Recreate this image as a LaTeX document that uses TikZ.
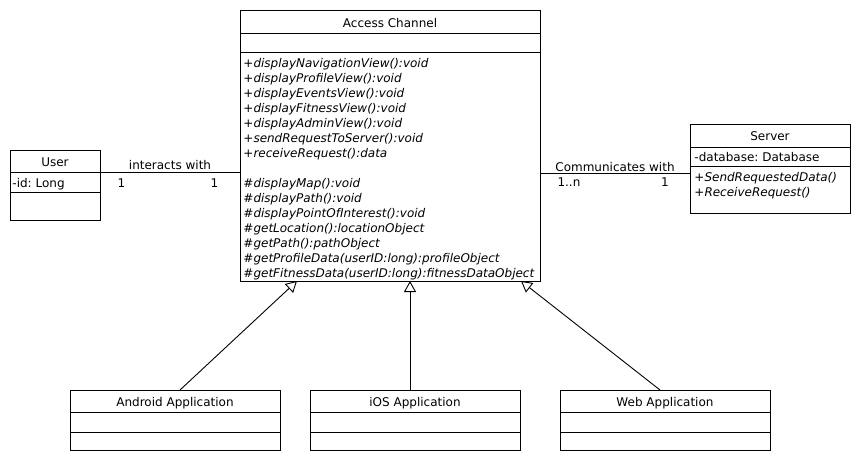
\documentclass[tikz,border=0pt]{standalone}
\usepackage{fontspec}
\setmainfont{DejaVu Sans}
\frenchspacing
\usetikzlibrary{arrows.meta}
\begin{document}
\begin{tikzpicture}[x=1pt,y=-1pt,line width=0.9pt,
  cls/.style={draw,anchor=north west,inner sep=0,outer sep=0},
  txt/.style={inner sep=0,font=\fontsize{12}{15}\selectfont},
  meth/.style={txt,anchor=base west,font=\fontsize{12}{15}\selectfont\itshape},
  attr/.style={txt,anchor=base west},
  ttl/.style={txt,anchor=base},
  lbl/.style={txt,anchor=base},
  gen/.style={-{Triangle[open,length=11pt,width=12pt]}}]
\useasboundingbox[fill=white] (0,0) rectangle (860,460);

% Access Channel
\node[cls,minimum width=300pt,minimum height=271pt] (ac) at (240,10) {};
\draw (240,33) -- (540,33);
\draw (240,52) -- (540,52);
\node[ttl] (actitle) at (390,27.5) {Access Channel};
\foreach \t [count=\i] in {+displayNavigationView():void,+displayProfileView():void,+displayEventsView():void,+displayFitnessView():void,+displayAdminView():void,+sendRequestToServer():void,+receiveRequest():data}
  \node[meth] (mp\i) at (243,52+15*\i) {\t};
\foreach \t [count=\i] in {\#displayMap():void,\#displayPath():void,\#displayPointOfInterest():void,\#getLocation():locationObject,\#getPath():pathObject,\#getProfileData(userID:long):profileObject,\#getFitnessData(userID:long):fitnessDataObject}
  \node[meth] (mh\i) at (243,172+15*\i) {\t};

% User
\node[cls,minimum width=90pt,minimum height=70pt] (user) at (10,150) {};
\draw (10,172) -- (100,172);
\draw (10,192) -- (100,192);
\node[ttl] (usertitle) at (55,166.5) {User};
\node[attr] (userid) at (12,187.5) {-id: Long};

% Server
\node[cls,minimum width=160pt,minimum height=89pt] (server) at (690,124) {};
\draw (690,147) -- (850,147);
\draw (690,166) -- (850,166);
\node[ttl] (servertitle) at (770,140.5) {Server};
\node[attr] (serverdb) at (694,161.5) {-database: Database};
\node[meth] (sm1) at (694,181) {+SendRequestedData()};
\node[meth] (sm2) at (694,196) {+ReceiveRequest()};

% Applications
\foreach \n/\x/\t in {android/70/Android Application,ios/310/iOS Application,web/560/Web Application}{
  \node[cls,minimum width=210pt,minimum height=60pt] (\n) at (\x,390) {};
  \draw (\x,412) -- (\x+210,412);
  \draw (\x,432) -- (\x+210,432);
  \node[ttl] (\n title) at (\x+105,406) {\t};
}

% Associations
\coordinate (u1) at ([yshift=-22pt]user.north east);
\draw (u1) -- node[lbl,pos=0.5,yshift=3pt] (ia) {interacts with}
  node[lbl,pos=0.154,yshift=-15pt] (ia1) {1}
  node[lbl,pos=0.818,yshift=-15pt] (ia2) {1} (u1 -| ac.west);
\coordinate (s1) at ([yshift=-49pt]server.north west);
\draw (s1 -| ac.east) -- node[lbl,pos=0.5,yshift=2pt] (cw) {Communicates with}
  node[lbl,pos=0.193,yshift=-13pt] (cw1) {1..n}
  node[lbl,pos=0.833,yshift=-13pt] (cw2) {1} (s1);

% Generalizations
\draw[gen] ([xshift=5pt]android.north) -- ([xshift=57pt]ac.south west);
\draw[gen] ([xshift=-5pt]ios.north) -- ([xshift=170pt]ac.south west);
\draw[gen] ([xshift=-5pt]web.north) -- ([xshift=-19pt]ac.south east);
\end{tikzpicture}
\end{document}
